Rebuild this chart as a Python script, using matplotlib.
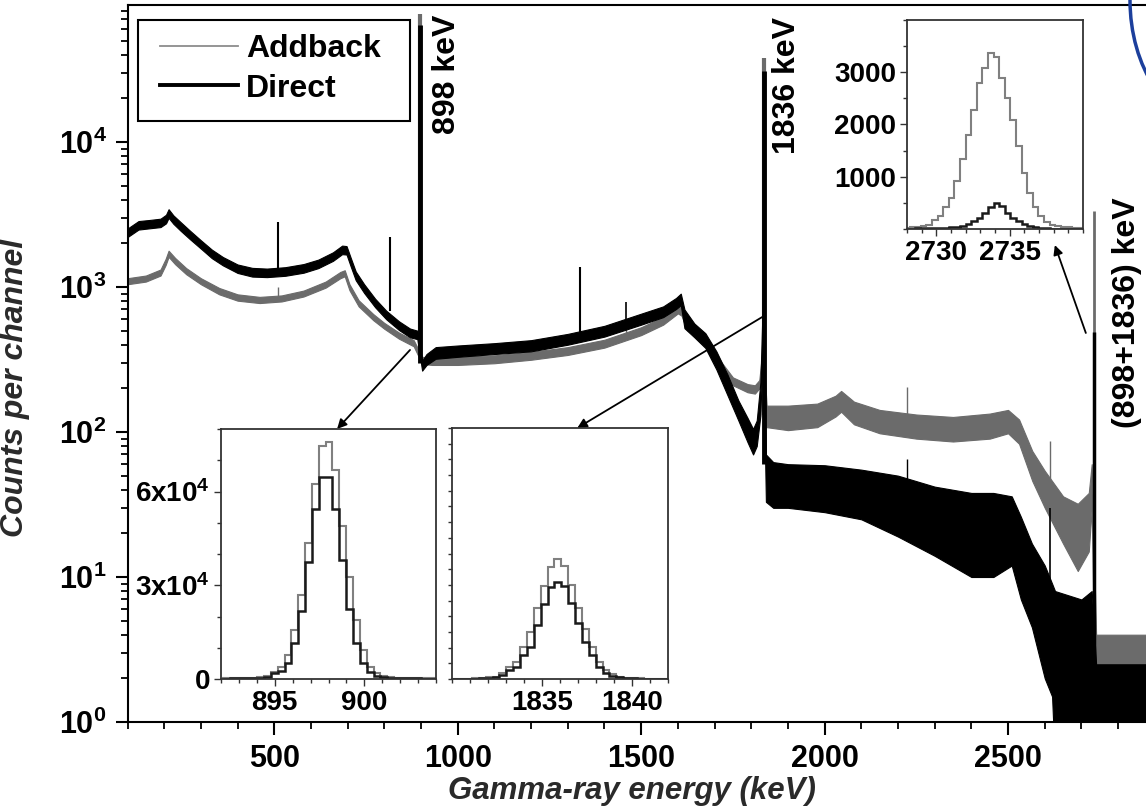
import numpy as np
import matplotlib
matplotlib.use('Agg')
import matplotlib.pyplot as plt
from matplotlib.patches import Ellipse, Rectangle
from matplotlib.lines import Line2D
from matplotlib.ticker import FixedLocator, MultipleLocator, LogLocator, NullFormatter, FixedFormatter

plt.rcParams['font.family'] = ['Liberation Sans', 'DejaVu Sans']
plt.rcParams['font.weight'] = 'bold'
plt.rcParams['mathtext.fontset'] = 'custom'
plt.rcParams['mathtext.rm'] = 'Liberation Sans:bold'
plt.rcParams['mathtext.bf'] = 'Liberation Sans:bold'
plt.rcParams['mathtext.it'] = 'Liberation Sans:bold:italic'

# ---------------- main spectrum (envelopes of the noisy bands) ----------------
direct_E = [100, 130, 160, 190, 205, 212, 225, 245, 270, 300, 330, 360, 400, 440, 480, 530, 580, 620, 660, 685,
            697, 708, 722, 745, 775, 805, 840, 870, 890, 903, 915, 940, 1000, 1100, 1200, 1300, 1400, 1500, 1560, 1595,
            1608, 1618, 1645, 1675, 1705, 1735, 1765, 1790, 1805, 1815, 1825, 1832, 1840, 1860, 1900, 2000, 2100, 2200, 2300, 2400,
            2460, 2510, 2535, 2565, 2600, 2620, 2628, 2700, 2728, 2740, 2900]
direct_lo = [2210, 2490, 2540, 2590, 2750, 3000, 2730, 2440, 2140, 1840, 1580, 1410, 1250, 1180, 1170, 1195, 1255, 1350, 1515, 1685,
             1675, 1395, 1115, 910, 725, 600, 505, 450, 437, 265, 290, 320, 330, 345, 360, 400, 455, 550, 620, 705,
             750, 520, 450, 380, 270, 180, 120, 85, 70, 80, 130, 450, 33, 30, 30, 28, 25, 19, 14, 10,
             10, 12, 7, 4.5, 2, 1.5, 0.5, 0.5, 0.5, 0.5, 0.5]
direct_hi = [2530, 2850, 2900, 2960, 3150, 3440, 3120, 2800, 2450, 2100, 1810, 1610, 1430, 1355, 1340, 1370, 1440, 1545, 1735, 1930,
             1915, 1600, 1280, 1045, 830, 687, 580, 517, 500, 310, 345, 385, 395, 410, 430, 475, 540, 655, 735, 840,
             900, 700, 560, 480, 360, 250, 165, 125, 105, 120, 220, 900, 70, 62, 60, 59, 55, 50, 42, 38,
             38, 36, 26, 17, 12, 9, 8, 7, 8, 2.5, 2.5]

addback_E = [100, 150, 190, 204, 212, 230, 260, 300, 350, 400, 460, 520, 580, 640, 680, 692, 705, 730, 770, 800,
             840, 880, 903, 930, 1000, 1100, 1200, 1300, 1400, 1500, 1560, 1600, 1610, 1625, 1660, 1690, 1720, 1750, 1790, 1810,
             1822, 1832, 1842, 1900, 1980, 2030, 2045, 2080, 2150, 2250, 2350, 2450, 2500, 2530, 2566, 2600, 2650, 2690, 2720, 2728,
             2740, 2900]
addback_lo = [1045, 1090, 1200, 1420, 1615, 1435, 1225, 1045, 890, 805, 775, 795, 860, 990, 1150, 1185, 950, 735, 590, 515,
              440, 390, 295, 290, 290, 298, 315, 340, 382, 466, 550, 658, 635, 505, 440, 360, 265, 210, 188, 184,
              200, 260, 108, 103, 108, 128, 138, 113, 98, 90, 86, 90, 98, 83, 46, 30, 17, 11, 15, 30,
              0.5, 0.5]
addback_hi = [1150, 1200, 1320, 1565, 1780, 1585, 1350, 1150, 985, 890, 855, 875, 945, 1090, 1270, 1305, 1045, 810, 650, 565,
              485, 430, 330, 325, 330, 338, 357, 385, 433, 528, 622, 745, 718, 570, 497, 407, 300, 238, 214, 210,
              228, 400, 152, 152, 157, 178, 192, 162, 142, 132, 127, 134, 142, 122, 74, 54, 36, 32, 38, 60,
              4, 4]

# sharp lines (energy, foot, top)
direct_peak_E = [511, 815, 898, 1332, 1460, 1836, 2224, 2614, 2734]
direct_peak_base = [1300, 680, 300, 420, 560, 60, 45, 3, 0.5]
direct_peak_top = [2800, 2200, 64600, 1370, 790, 31000, 65, 30, 490]

addback_peak_E = [511, 898, 1460, 1836, 2224, 2614, 2734]
addback_peak_base = [850, 340, 480, 130, 120, 40, 4]
addback_peak_top = [1000, 75800, 600, 38100, 205, 87, 3360]

# ---------------- insets (channel counts, channel width 0.382 keV) ----------------
chan_w = 0.382
in898_start = 892.11
in898_direct = [150, 170, 200, 220, 280, 400, 750, 1800, 2700, 5000, 11400, 21800, 37600, 54400, 64600, 64600,
                54400, 38200, 22400, 11400, 5000, 2350, 1000, 600, 400, 300, 250, 200, 170, 150, 130]
in898_addback = [200, 220, 260, 320, 420, 600, 1100, 2300, 4000, 7700, 15700, 27000, 43500, 62500, 74500, 75800,
                 67000, 48900, 32800, 18900, 9300, 3800, 1800, 900, 550, 400, 300, 250, 220, 200, 180]

in1836_start = 1829.96
in1836_direct = [60, 80, 110, 150, 200, 300, 600, 1200, 2900, 3900, 7650, 10300, 17200, 23800, 29200, 31000,
                 29700, 24300, 17900, 11900, 7650, 3900, 1800, 950, 500, 300, 200, 150, 100, 80, 60, 50]
in1836_addback = [80, 110, 150, 220, 320, 500, 740, 2000, 3900, 5500, 10300, 15100, 22500, 29700, 35800, 38100,
                  36100, 29900, 22500, 15900, 10300, 5500, 2900, 1600, 500, 350, 250, 180, 130, 100, 80, 60]

in2734_start = 2727.79
in2734_direct = [5, 8, 10, 12, 14, 15, 20, 25, 35, 45, 65, 100, 145, 210, 305, 430,
                 500, 445, 305, 210, 145, 95, 50, 30, 15, 10, 8, 6, 5, 5, 4, 4]
in2734_addback = [20, 30, 40, 50, 80, 180, 250, 430, 590, 920, 1340, 1800, 2280, 2790, 3090, 3360,
                  3300, 2885, 2500, 2090, 1580, 1070, 690, 430, 240, 130, 80, 50, 40, 30, 25, 20]

series_labels = ['Addback', 'Direct']
x_major = [500, 1000, 1500, 2000, 2500]
y_major = [1, 10, 100, 1000, 10000]

# ---------------- figure ----------------
W, H = 1146, 811
fig = plt.figure(figsize=(W / 100, H / 100), dpi=100)

AB = '#6b6b6b'
ax = fig.add_axes([127.5 / W, (H - 722) / H, 1064 / W, 717 / H])
ax.set_yscale('log')
ax.set_xlim(100, 3000)
ax.set_ylim(1, 10 ** 4.945)

ax.fill_between(addback_E, addback_lo, addback_hi, color=AB, lw=0.8, zorder=2)
ax.vlines(addback_peak_E, addback_peak_base, addback_peak_top, colors=AB,
          linewidths=[1, 3, 1, 3, 1, 1, 2], zorder=2)
ax.fill_between(direct_E, direct_lo, direct_hi, color='black', lw=0.8, zorder=3)
ax.vlines(direct_peak_E, direct_peak_base, direct_peak_top, colors='black',
          linewidths=[1.5, 1.5, 3.5, 1.5, 1.2, 3.5, 1, 1.2, 2.5], zorder=3)

for s in ['left', 'bottom', 'top']:
    ax.spines[s].set_linewidth(1.5)
ax.spines['right'].set_visible(False)

ax.xaxis.set_major_locator(FixedLocator(x_major))
ax.xaxis.set_minor_locator(MultipleLocator(100))
ax.yaxis.set_major_locator(FixedLocator(y_major))
ax.yaxis.set_major_formatter(FixedFormatter([r'$\mathbf{10^{%d}}$' % i for i in range(5)]))
ax.yaxis.set_minor_locator(LogLocator(base=10, subs=np.arange(2, 10)))
ax.yaxis.set_minor_formatter(NullFormatter())
ax.tick_params(axis='both', which='major', direction='out', length=9, width=1.5, labelsize=22, pad=7)
ax.tick_params(axis='both', which='minor', direction='out', length=5, width=1.3)
ax.tick_params(axis='x', which='both', top=False)
ax.tick_params(axis='y', which='both', right=False)
ax.tick_params(axis='y', which='major', pad=6)
for lab in ax.get_xticklabels() + ax.get_yticklabels():
    lab.set_fontweight('bold')

ax.set_xlabel('Gamma-ray energy (keV)', fontsize=22.5, fontweight='bold', fontstyle='italic', color='#2a2a2a')
ax.set_ylabel('Counts per channel', fontsize=23, fontweight='bold', fontstyle='italic', color='#2a2a2a')
ax.xaxis.set_label_coords(0.474, -0.076)
ax.yaxis.set_label_coords(-0.0916, 0.466)

# legend: frame drawn as its own box, entries placed inside it
fig.add_artist(Rectangle((138 / W, 1 - 121 / H), 272 / W, 101 / H, transform=fig.transFigure,
                         fill=False, ec='black', lw=1.5, zorder=10))
handles = [Line2D([], [], color='#8c8c8c', lw=1.3), Line2D([], [], color='black', lw=2.8)]
leg = ax.legend(handles, series_labels, loc='upper left', bbox_to_anchor=(160 / W, 1 - 34 / H),
                bbox_transform=fig.transFigure, borderaxespad=0, borderpad=0,
                fontsize=23, handlelength=2.45, handletextpad=0.25, labelspacing=0.3,
                frameon=False)
for t in leg.get_texts():
    t.set_fontweight('bold')

ax.text(971, 10 ** 4.876, '898 keV', rotation=90, ha='center', va='top', fontsize=23, fontweight='bold')
ax.text(1898, 10 ** 4.862, '1836 keV', rotation=90, ha='center', va='top', fontsize=23, fontweight='bold')
ax.text(2824, 10 ** 3.62, '(898+1836) keV', rotation=90, ha='center', va='top', fontsize=23, fontweight='bold')

# ---------------- insets ----------------
def make_inset(rect, start, direct, addback, xlim, ylim, xmaj, ymin_step, ymaj=None, ylabels=None):
    ia = fig.add_axes(rect)
    edges_d = start + chan_w * np.arange(len(direct) + 1)
    edges_a = start + chan_w * np.arange(len(addback) + 1)
    ia.stairs(addback, edges_a, color='#808080', lw=1.5)
    ia.stairs(direct, edges_d, color='#1a1a1a', lw=1.8)
    ia.set_xlim(*xlim)
    ia.set_ylim(*ylim)
    ia.xaxis.set_major_locator(FixedLocator(xmaj))
    ia.xaxis.set_minor_locator(MultipleLocator(1))
    ia.yaxis.set_minor_locator(MultipleLocator(ymin_step))
    if ymaj is None:
        ia.yaxis.set_major_locator(FixedLocator([]))
    else:
        ia.yaxis.set_major_locator(FixedLocator(ymaj))
        ia.yaxis.set_major_formatter(FixedFormatter(ylabels))
    ia.tick_params(which='both', direction='out', width=1, color='#333333', labelsize=20, pad=3)
    ia.tick_params(which='major', length=5)
    ia.tick_params(which='minor', length=3)
    for s in ia.spines.values():
        s.set_linewidth(1.3)
        s.set_color('#333333')
    for lab in ia.get_xticklabels() + ia.get_yticklabels():
        lab.set_fontweight('bold')
    return ia

ins1 = make_inset([221 / W, (H - 679) / H, 215 / W, 250 / H], in898_start, in898_direct, in898_addback,
                  (892, 904), (0, 80000), [895, 900], 10000, [0, 30000, 60000],
                  ['0', r'$\mathbf{3x10^{4}}$', r'$\mathbf{6x10^{4}}$'])
ins2 = make_inset([452 / W, (H - 679) / H, 216 / W, 251 / H], in1836_start, in1836_direct, in1836_addback,
                  (1830, 1842), (0, 80000), [1835, 1840], 5000)
ins3 = make_inset([907 / W, (H - 229) / H, 176 / W, 209 / H], in2734_start, in2734_direct, in2734_addback,
                  (2728, 2740), (0, 4000), [2730, 2735], 500, [1000, 2000, 3000], ['1000', '2000', '3000'])

arrow = dict(arrowstyle='-|>', color='black', lw=1.3, mutation_scale=14, shrinkA=0, shrinkB=0)
ax.annotate('', xy=(0.54, 1.0), xycoords=ins1.transAxes, xytext=(870, 368), textcoords='data',
            arrowprops=arrow, annotation_clip=False)
ax.annotate('', xy=(0.58, 1.0), xycoords=ins2.transAxes, xytext=(1830, 621), textcoords='data',
            arrowprops=arrow, annotation_clip=False)
ax.annotate('', xy=(0.84, -0.077), xycoords=ins3.transAxes, xytext=(2712, 482), textcoords='data',
            arrowprops=arrow, annotation_clip=False)

# blue arc partly visible at the top-right corner of the page
fig.add_artist(Ellipse((1215 / W, 1.0), 170 / W, 248 / H, transform=fig.transFigure,
                       fill=False, ec='#1c3f9c', lw=2.5))

fig.savefig('out.png', dpi=100)
